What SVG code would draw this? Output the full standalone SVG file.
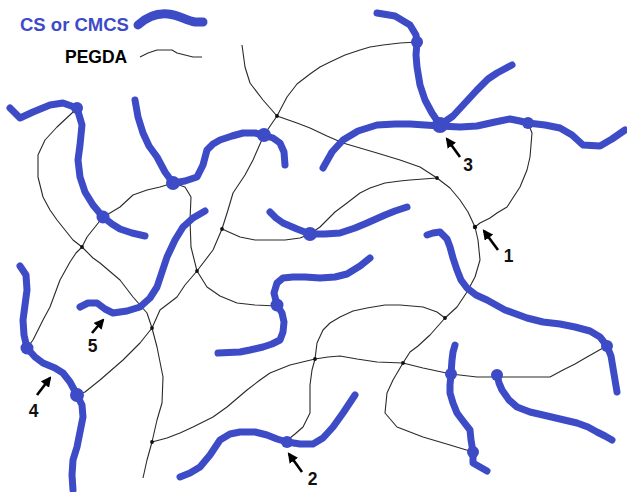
<svg xmlns="http://www.w3.org/2000/svg" width="627" height="492" viewBox="0 0 627 492">
  <style>
    .cs { fill: none; stroke: #3d4bc7; stroke-width: 7; stroke-linecap: round; stroke-linejoin: round; }
    .knot { fill: #3d4bc7; }
    .peg { fill: none; stroke: #2a2a2a; stroke-width: 1.1; stroke-linejoin: round; }
    .node { fill: #111; }
    .arr { stroke: #000; stroke-width: 2.6; fill: none; marker-end: url(#head); }
    .num { font-family: "Liberation Sans", Arial, sans-serif; font-weight: bold; font-size: 17.5px; fill: #111; text-anchor: middle; }
    .lab { font-family: "Liberation Sans", Arial, sans-serif; font-weight: bold; }
  </style>
  <defs>
    <marker id="head" viewBox="0 0 10 10" refX="8" refY="5" markerWidth="4" markerHeight="4" orient="auto" markerUnits="strokeWidth">
      <path d="M0,0 L10,5 L0,10 Z" fill="#000"/>
    </marker>
  </defs>
  <rect width="627" height="492" fill="#fff"/>

  <!-- legend -->
  <g id="legend">
    <text class="lab" x="20" y="31" font-size="18.5" fill="#3d4bc7">CS or CMCS</text>
    <path class="cs" style="stroke-width:9" d="M138,25 C148,16 158,13 168,14 C180,15 186,21 195,22 L203,22"/>
    <text class="lab" x="65" y="63" font-size="17.5" fill="#000">PEGDA</text>
    <polyline class="peg" points="140,57 148,53 157,50 172,50 177,53 185,55 193,57 202,57"/>
  </g>

  <!-- PEGDA chains -->
  <g id="connectors">
    <polyline class="peg" points="242,45 245,67 250,83 263,100 277,116 297,123 310,128 327,136 343,143 360,148 377,153 400,160 420,167 437,178 450,188 460,200 468,212 475,227 478,240 480,260 475,277 467,292 457,307 445,318 430,335 418,346 410,352 403,363 393,380 387,393 385,413 397,427 423,437 450,445 473,452"/>
    <polyline class="peg" points="417,42 400,43 383,45 370,47 360,50 345,55 330,62 320,67 310,74 297,84 287,97 277,116 264,135 253,160 245,175 233,193 228,210 222,229 213,250 197,271 185,285 177,297 160,310 152,328 140,343 123,360 100,380 85,392 77,395"/>
    <polyline class="peg" points="173,183 185,187 191,197 190,220 191,247 197,271 207,287 220,296 237,303 255,305 277,306"/>
    <polyline class="peg" points="222,229 240,237 255,240 267,240 285,240 300,238 310,234 320,227 335,212 347,203 360,193 370,188 385,183 400,181 410,180 437,178"/>
    <polyline class="peg" points="528,123 532,133 531,145 530,157 527,170 520,187 507,207 497,213 490,218 480,223 475,227"/>
    <polyline class="peg" points="173,183 160,187 147,190 133,195 120,207 110,213 103,217 95,227 87,237 82,247 76,253 70,262 60,280 50,307 43,320 33,340 27,348"/>
    <polyline class="peg" points="77,108 72,113 57,127 45,140 38,155 38,177 43,197 50,210 57,220 73,240 82,247 93,258 100,263 120,280 133,297 147,313 152,328 157,347 163,377 162,403 157,420 152,442 147,460 143,478"/>
    <polyline class="peg" points="152,442 167,438 180,433 193,427 213,417 227,407 247,390 260,380 270,373 290,365 315,359 328,357 340,356 357,359 377,362 403,363 423,368 451,374 477,377 497,377 550,377 563,370 575,364 587,357 603,348 607,346"/>
    <polyline class="peg" points="315,359 317,343 323,330 330,323 340,317 353,311 367,308 385,305 400,305 423,307 437,312 445,318"/>
    <polyline class="peg" points="315,359 312,370 310,385 310,397 310,413 303,427 295,434 290,438 287,442"/>
    <g id="crosslinks">
      <circle class="node" cx="277" cy="116" r="1.9"/>
      <circle class="node" cx="437" cy="178" r="1.9"/>
      <circle class="node" cx="475" cy="227" r="2.2"/>
      <circle class="node" cx="445" cy="318" r="1.9"/>
      <circle class="node" cx="403" cy="363" r="1.9"/>
      <circle class="node" cx="315" cy="359" r="1.9"/>
      <circle class="node" cx="222" cy="229" r="1.9"/>
      <circle class="node" cx="197" cy="271" r="1.9"/>
      <circle class="node" cx="82" cy="247" r="1.9"/>
      <circle class="node" cx="152" cy="328" r="1.9"/>
      <circle class="node" cx="152" cy="442" r="1.9"/>
    </g>
  </g>

  <!-- CS / CMCS strands -->
  <g id="strand-1"><polyline class="cs" points="377,13 395,16 410,25 416,35 417,42 416,55 417,67 420,85 425,100 432,113 440,125"/></g>
  <g id="strand-2"><polyline class="cs" points="440,125 453,116 465,103 477,90 488,79 497,73 512,65"/></g>
  <g id="strand-3"><polyline class="cs" points="323,168 332,152 343,140 358,131 377,125 395,124 410,124 440,126 460,127 477,126 495,122 510,119 520,121 528,123 545,125 560,128 572,135 583,145 600,146 612,139 625,130"/></g>
  <g id="strand-4"><polyline class="cs" points="10,108 20,118 33,112 50,105 63,103 77,108 82,125 80,145 78,160 80,177 85,192 93,205 103,217 112,224 120,229 132,233 145,236"/></g>
  <g id="strand-5"><polyline class="cs" points="135,100 138,117 143,133 149,146 157,157 165,172 173,183 185,181 197,177 203,165 207,150 213,144 220,140 232,136 243,133 255,133 263,135 273,138 280,143 284,152 285,165"/></g>
  <g id="strand-6"><polyline class="cs" points="80,307 88,303 97,303 105,309 113,313 127,311 140,307 150,298 157,287 162,272 167,257 175,240 183,227 193,218 205,211"/></g>
  <g id="strand-7"><polyline class="cs" points="20,266 26,275 27,290 25,305 23,320 24,335 27,348 35,357 43,363 55,368 63,373 70,382 77,395 82,405 83,417 80,432 77,447 73,460 72,475 73,490"/></g>
  <g id="strand-8"><polyline class="cs" points="270,212 276,218 283,223 297,229 310,234 325,234 340,233 355,228 367,223 385,215 395,211 407,207"/></g>
  <g id="strand-9"><polyline class="cs" points="370,258 360,266 347,274 335,277 320,278 305,277 293,277 283,278 277,283 274,293 277,305 282,313 284,322 283,332 280,340 272,344 263,347 250,350 240,352 218,353"/></g>
  <g id="strand-10"><polyline class="cs" points="427,235 433,233 440,232 447,239 450,247 453,258 457,270 461,280 467,288 476,295 487,300 505,310 527,318 543,322 560,324 575,327 590,331 600,337 607,346 611,356 613,368 615,380 617,392"/></g>
  <g id="strand-11"><polyline class="cs" points="455,345 453,352 452,360 451,374 450,385 450,393 453,403 457,413 463,421 470,430 471,440 473,452 473,463 480,467 487,471"/></g>
  <g id="strand-12"><polyline class="cs" points="497,375 499,383 502,390 509,400 517,407 530,412 543,415 560,419 577,423 588,427 597,432 605,436 612,440"/></g>
  <g id="strand-13"><polyline class="cs" points="180,477 190,473 200,467 210,455 220,440 230,434 240,432 255,432 267,435 277,439 287,442 300,444 313,444 323,438 333,427 343,413 355,395"/></g>

  <!-- bonding sites on the strands -->
  <g id="sites">
    <circle class="knot" cx="417" cy="42" r="6"/>
    <circle class="knot" cx="440" cy="125" r="8"/>
    <circle class="knot" cx="528" cy="123" r="6"/>
    <circle class="knot" cx="77" cy="108" r="6"/>
    <circle class="knot" cx="103" cy="217" r="6.5"/>
    <circle class="knot" cx="173" cy="183" r="7"/>
    <circle class="knot" cx="264" cy="135" r="7"/>
    <circle class="knot" cx="310" cy="234" r="7"/>
    <circle class="knot" cx="277" cy="305" r="6.5"/>
    <circle class="knot" cx="27" cy="348" r="6.5"/>
    <circle class="knot" cx="77" cy="395" r="7"/>
    <circle class="knot" cx="607" cy="346" r="6"/>
    <circle class="knot" cx="451" cy="374" r="6"/>
    <circle class="knot" cx="497" cy="375" r="6"/>
    <circle class="knot" cx="473" cy="452" r="6"/>
    <circle class="knot" cx="287" cy="442" r="6"/>
  </g>

  <!-- numbered callouts -->
  <g id="callout-1"><line class="arr" x1="498" y1="250" x2="484" y2="231"/><text class="num" x="508.5" y="262">1</text></g>
  <g id="callout-2"><line class="arr" x1="302" y1="472" x2="289" y2="454"/><text class="num" x="312.5" y="485">2</text></g>
  <g id="callout-3"><line class="arr" x1="460" y1="157" x2="447" y2="139"/><text class="num" x="468" y="171">3</text></g>
  <g id="callout-4"><line class="arr" x1="37" y1="395" x2="50" y2="378"/><text class="num" x="33.5" y="417">4</text></g>
  <g id="callout-5"><line class="arr" x1="92" y1="333" x2="103" y2="320"/><text class="num" x="92.5" y="352">5</text></g>
</svg>
